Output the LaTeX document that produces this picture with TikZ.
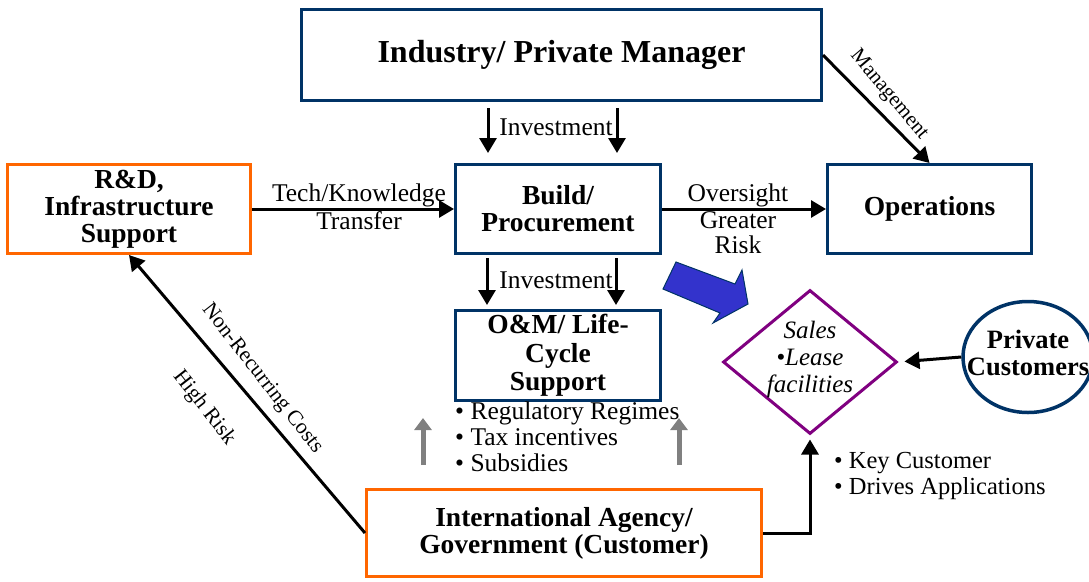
\documentclass[tikz,border=0pt]{standalone}
\usepackage{fontspec}
\setmainfont{Liberation Serif}
\usepackage{tikz}
\usetikzlibrary{arrows.meta, shapes.geometric}
\definecolor{navyLine}{RGB}{0, 51, 102}
\definecolor{orangeLine}{RGB}{255, 102, 0}
\definecolor{purpleLine}{RGB}{128, 0, 128}
\definecolor{blockBlue}{RGB}{51, 51, 204}
\definecolor{grayArrow}{RGB}{128, 128, 128}

\begin{document}
\begin{tikzpicture}[x=1pt, y=-1pt, font=\fontsize{25.5}{25}\selectfont,
	navyBox/.style={draw=navyLine, line width=3pt, fill=white, align=center, inner sep=0pt, font=\fontsize{27.5}{27}\selectfont\bfseries},
	orangeBox/.style={navyBox, draw=orangeLine},
	flowArrow/.style={line width=3pt, -{Triangle[length=15pt, width=17pt]}},
	liftArrow/.style={line width=5pt, draw=grayArrow, -{Triangle[length=12pt, width=17pt]}},
	plainLabel/.style={inner sep=1pt, align=center},
	bulletList/.style={align=left, inner sep=0pt, anchor=north west}]
			\useasboundingbox (0, 0) rectangle (1089, 581);
			
			% Boxes
			\node[navyBox, minimum width=520pt, minimum height=91pt, font=\fontsize{32}{31}\selectfont\bfseries] (industry) at (561.5, 55) {Industry/ Private Manager};
			\node[orangeBox, minimum width=243pt, minimum height=89pt] (rd) at (129, 209) {R\&D,\\Infrastructure\\Support};
			\node[navyBox, minimum width=205pt, minimum height=89pt] (build) at (558, 209) {Build/\\Procurement};
			\node[navyBox, minimum width=204pt, minimum height=89pt] (ops) at (929.5, 209) {Operations};
			\node[navyBox, minimum width=205pt, minimum height=90pt, font=\fontsize{27.5}{28.5}\selectfont\bfseries] (om) at (558, 355.5) {O\&M/ Life-\\Cycle\\Support};
			\node[orangeBox, minimum width=395pt, minimum height=87pt] (intl) at (564, 533) {International Agency/\\Government (Customer)};
			
			% Sales diamond and private customers
			\node[diamond, draw=purpleLine, line width=3pt, minimum width=174pt, minimum height=144pt, inner sep=0pt] (sales) at (810, 362) {};
			\node[align=center, font=\fontsize{25}{27}\itshape] (salesText) at (810, 359) {Sales\\\textbullet Lease\\facilities};
			\node[ellipse, draw=navyLine, line width=3.5pt, minimum width=130pt, minimum height=111pt, inner sep=0pt] (priv) at (1028, 357) {};
			\node[align=center, font=\fontsize{26.5}{27}\selectfont\bfseries] (privText) at (1028, 353) {Private\\Customers};
			
			% Investment arrows
			\coordinate (invTopA) at (488, 108);
			\coordinate (invTopB) at (617, 108);
			\coordinate (invLowA) at (487, 258);
			\coordinate (invLowB) at (616, 258);
			\draw[flowArrow, shorten >=10pt] (invTopA) -- (invTopA |- build.north);
			\draw[flowArrow, shorten >=10pt] (invTopB) -- (invTopB |- build.north);
			\node[plainLabel] (invTopText) at (556, 127) {Investment};
			\draw[flowArrow, shorten >=4pt] (invLowA) -- (invLowA |- om.north);
			\draw[flowArrow, shorten >=4pt] (invLowB) -- (invLowB |- om.north);
			\node[plainLabel] (invLowText) at (556, 280) {Investment};
			
			% Horizontal flows
			\draw[flowArrow] (rd.east) -- node[plainLabel, above, xshift=6pt] {Tech/Knowledge} node[plainLabel, below, xshift=6pt] {Transfer} (build.west);
			\draw[flowArrow] (build.east) -- node[plainLabel, above, xshift=-6pt] {Oversight} node[plainLabel, below, xshift=-6pt] {Greater\\Risk} (ops.west);
			
			% Management
			\draw[flowArrow] (industry.east) -- (ops.north);
			\node[rotate=-50, font=\fontsize{21}{21}\selectfont] (mgmtText) at (889, 95) {Management};
			
			% Government to R&D
			\draw[flowArrow] (intl.west) -- (rd.south);
			\node[rotate=-52, font=\fontsize{21.5}{21}\selectfont] (costText) at (262, 379) {Non-Recurring Costs};
			\node[rotate=-52, font=\fontsize{21.5}{21}\selectfont] (riskText) at (204, 408) {High Risk};
			
			% Government to sales, private customers to sales
			\draw[flowArrow, shorten >=4pt] (intl.east) -| (sales.south);
			\draw[flowArrow, shorten >=6pt] (priv.west) -- (sales.east);
			
			% Bullet lists
			\node[bulletList, font=\fontsize{25.5}{26}\selectfont] (policyList) at (455, 402) {\textbullet{} Regulatory Regimes\\\textbullet{} Tax incentives\\\textbullet{} Subsidies};
			\node[bulletList, font=\fontsize{24.5}{26}\selectfont] (keyList) at (834, 452) {\textbullet{} Key Customer\\\textbullet{} Drives Applications};
			
			% Gray lift arrows
			\coordinate (liftA) at (423, 465);
			\coordinate (liftB) at (679, 465);
			\draw[liftArrow] (liftA) -- ++(0, -47);
			\draw[liftArrow] (liftB) -- ++(0, -47);
			
			% Blue block arrow
			\filldraw[fill=blockBlue, draw=navyLine, line width=1pt] (676, 262) -- (735, 284) -- (742, 270) -- (748, 304) -- (713, 323) -- (720, 313) -- (663, 289) -- cycle;
		\end{tikzpicture}
\end{document}
